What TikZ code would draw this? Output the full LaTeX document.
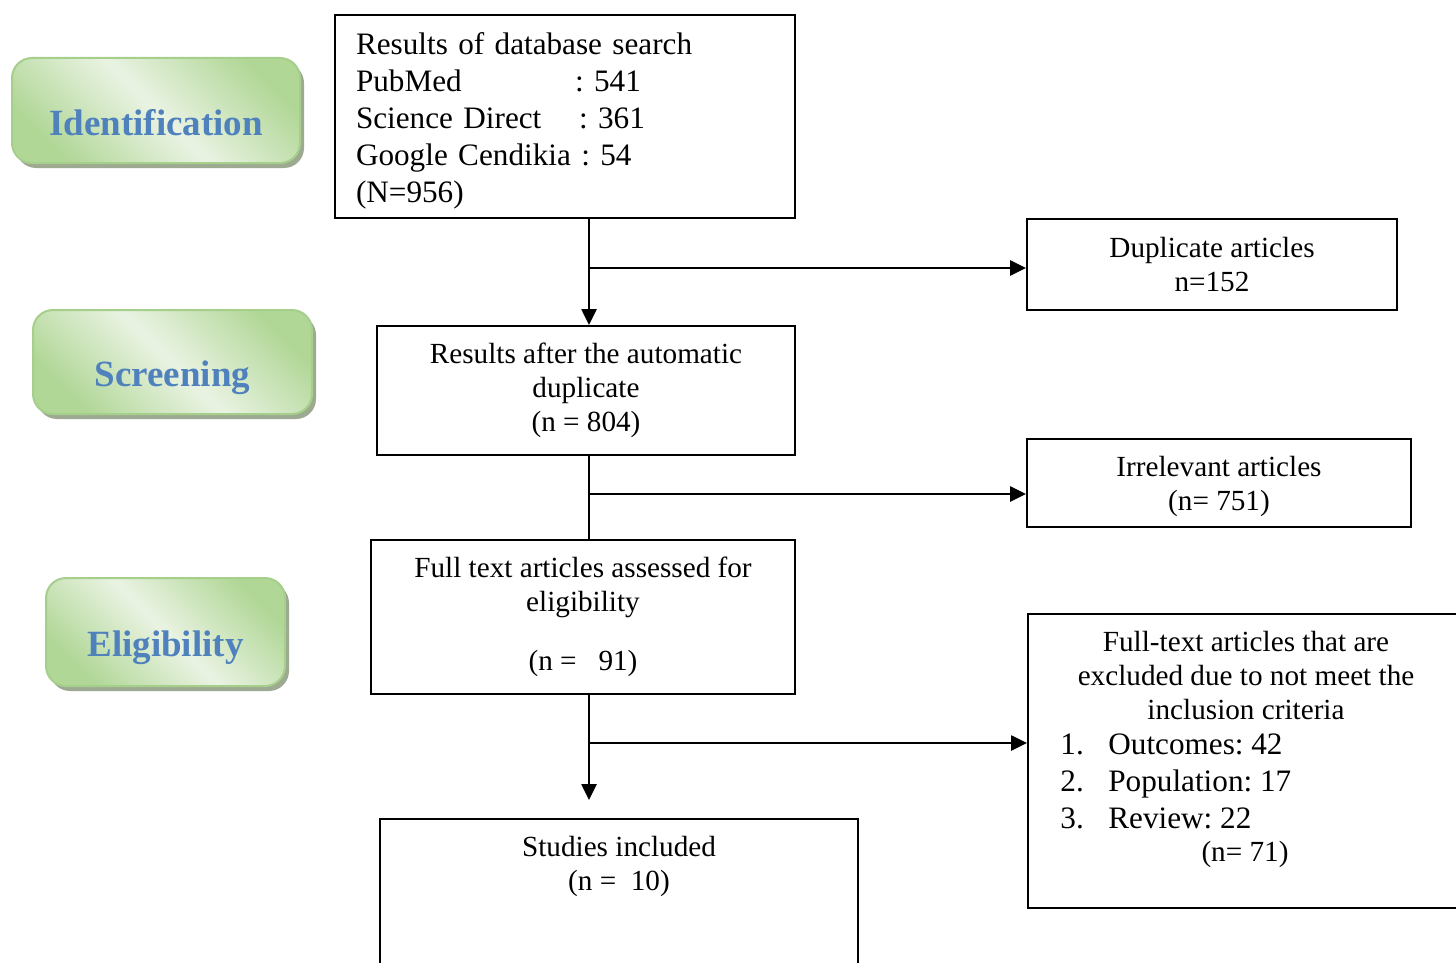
\documentclass[tikz,border=0pt]{standalone}
\usepackage{fontspec}
\setmainfont{Liberation Serif}
\usetikzlibrary{positioning,shadows,arrows.meta}
\frenchspacing

\definecolor{stageblue}{HTML}{4F81BD}
\definecolor{stageline}{HTML}{A6CF8C}
\definecolor{stagedark}{HTML}{B1D797}
\definecolor{stagelight}{HTML}{EAF3E3}
\definecolor{stageshadow}{HTML}{9DAA91}

\tikzset{
  box/.style={draw,line width=1pt,inner sep=0pt,align=center,font=\fontsize{14.6}{17}\selectfont},
  boxtext/.style={inner sep=0pt,font=\fontsize{14.6}{17}\selectfont},
  stage/.style={draw=stageline,line width=1pt,rounded corners=10pt,
    top color=stagedark,bottom color=stagedark,middle color=stagelight,shading angle=-45,
    drop shadow={shadow xshift=2pt,shadow yshift=-2.5pt,fill=stageshadow,opacity=1},
    text height=24.5pt,text depth=0pt,
    font=\fontsize{18.5}{22}\selectfont\bfseries,text=stageblue},
  flow/.style={line width=1.3pt,-{Triangle[length=8pt,width=7.5pt]}},
  link/.style={line width=1.3pt},
}

\begin{document}
\begin{tikzpicture}[x=0.5pt,y=-0.5pt]
\useasboundingbox (0,0) rectangle (1456,963);
\clip (0,0) rectangle (1456,963);

% stages on the left
\node (ident) at (156,110.5) [stage,minimum width=144pt,minimum height=52.5pt] {Identification};
\node (screen) at (172.5,362) [stage,minimum width=139.5pt,minimum height=52pt] {Screening};
\node (elig) at (165.5,632) [stage,minimum width=119.5pt,minimum height=54pt] {Eligibility};

% main column
\node (search) at (565,116.5) [box,minimum width=230pt,minimum height=101.5pt,
  text width=209pt,align=left,font=\fontsize{15.6}{18.5}\selectfont]
  {\rule{0pt}{15.7pt}Results of database search\\
   \makebox[109.5pt][l]{PubMed}: 541\\
   \makebox[111.5pt][l]{Science Direct}: 361\\
   Google Cendikia : 54\\
   (N=956)};
\node (screened) at (586,390.5) [box,minimum width=209pt,minimum height=64.5pt]
  {Results after the automatic\\duplicate\\(n = 804)};
\node (assessed) at (583,617) [box,minimum width=212pt,minimum height=77pt]
  {Full text articles assessed for\\eligibility\\[12.5pt](n =\ \ \ 91)};
\node (included) at (379,818) [box,anchor=north west,minimum width=239pt,minimum height=100pt] {};
\node (incltext) at ([yshift=-8.9pt]included.north) [boxtext,anchor=north,align=center]
  {Studies included\\(n =\ \ 10)};

% excluded records on the right
\node (duplicate) at (1212,264.5) [box,minimum width=185pt,minimum height=45.5pt]
  {Duplicate articles\\n=152};
\node (irrelevant) at (1219,483) [box,minimum width=192pt,minimum height=44pt]
  {\rule{0pt}{14pt}Irrelevant articles\\(n= 751)};
\node (excluded) at (1027,613) [box,anchor=north west,minimum width=218pt,minimum height=147pt] {};
\node (exclhead) at ([yshift=-8.9pt]excluded.north) [boxtext,anchor=north,align=center]
  {Full-text articles that are\\excluded due to not meet the\\inclusion criteria};
\node (excllist) at (1060,733) [boxtext,anchor=north west,align=left,font=\fontsize{15.6}{18.5}\selectfont]
  {\makebox[24pt][l]{1.}Outcomes: 42\\
   \makebox[24pt][l]{2.}Population: 17\\
   \makebox[24pt][l]{3.}Review: 22};
\node (excltotal) at (1245,854) [boxtext] {(n= 71)};

% connectors
\coordinate (split1) at (589,268);
\coordinate (split2) at (589,494);
\coordinate (split3) at (589,743);
\coordinate (stop3) at (589,800);
\draw[flow] (split1 |- search.south) -- (split1 |- screened.north);
\draw[flow] (split1) -- (split1 -| duplicate.west);
\draw[link] (split2 |- screened.south) -- (split2 |- assessed.north);
\draw[flow] (split2) -- (split2 -| irrelevant.west);
\draw[flow] (split3 |- assessed.south) -- (stop3);
\draw[flow] (split3) -- (split3 -| excluded.west);
\end{tikzpicture}
\end{document}
